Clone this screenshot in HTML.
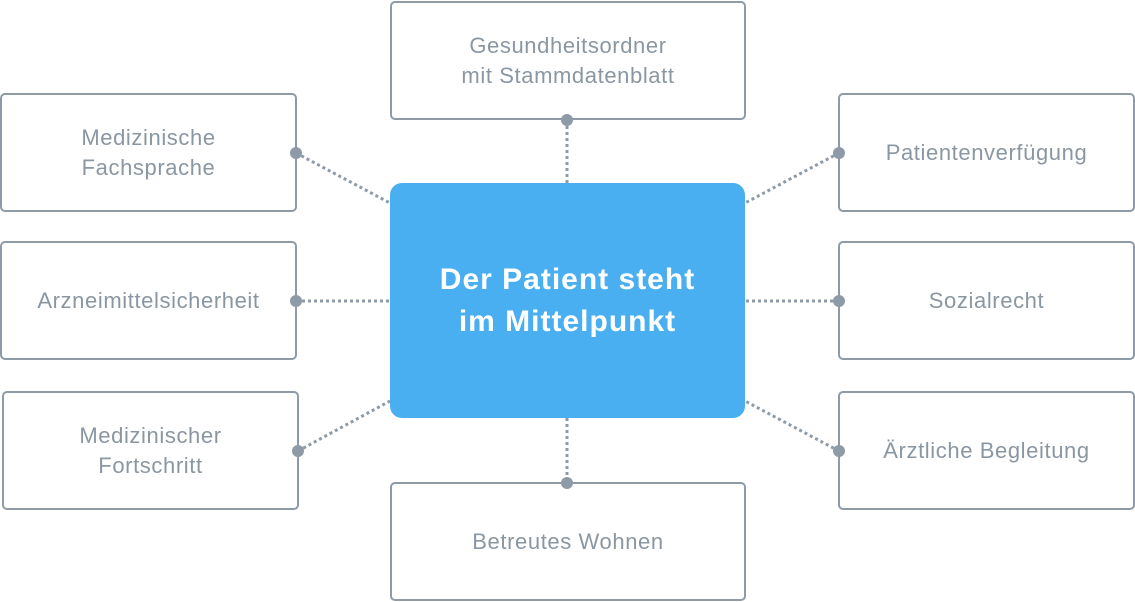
<!DOCTYPE html>
<html><head><meta charset="utf-8"><style>
body{margin:0;width:1135px;height:602px;background:#fff;position:relative;overflow:hidden;font-family:"Liberation Sans",sans-serif}
.b{position:absolute;box-sizing:border-box;border:2px solid #8e9ba7;border-radius:5px;display:flex;align-items:center;justify-content:center;text-align:center;color:#8a97a3;font-size:22px;letter-spacing:0.6px;line-height:30px;background:#fff}
.c{position:absolute;left:390px;top:183px;width:355px;height:235px;background:#4aaff0;border-radius:12px;display:flex;align-items:center;justify-content:center;text-align:center;color:#fff;font-weight:bold;font-size:30px;letter-spacing:1px;line-height:42px}
svg{position:absolute;left:0;top:0}
</style></head><body>
<div class="b" style="left:390px;top:1px;width:356px;height:119px">Gesundheitsordner<br>mit Stammdatenblatt</div>
<div class="b" style="left:0;top:93px;width:297px;height:119px">Medizinische<br>Fachsprache</div>
<div class="b" style="left:0;top:241px;width:297px;height:119px">Arzneimittelsicherheit</div>
<div class="b" style="left:2px;top:391px;width:297px;height:119px">Medizinischer<br>Fortschritt</div>
<div class="b" style="left:838px;top:93px;width:297px;height:119px">Patientenverfügung</div>
<div class="b" style="left:838px;top:241px;width:297px;height:119px">Sozialrecht</div>
<div class="b" style="left:838px;top:391px;width:297px;height:119px">Ärztliche Begleitung</div>
<div class="b" style="left:390px;top:482px;width:356px;height:119px">Betreutes Wohnen</div>
<div class="c">Der Patient steht<br>im Mittelpunkt</div>
<svg width="1135" height="602"><g stroke="#8e9ba7" stroke-width="3" stroke-dasharray="3,3" fill="none">
<line x1="567" y1="120" x2="567" y2="183"/><line x1="567" y1="418" x2="567" y2="483"/>
<line x1="296" y1="153" x2="390" y2="203"/><line x1="296" y1="301" x2="390" y2="301"/><line x1="298" y1="451" x2="390" y2="401"/>
<line x1="839" y1="153" x2="745" y2="203"/><line x1="839" y1="301" x2="745" y2="301"/><line x1="839" y1="451" x2="745" y2="401"/>
</g><g fill="#8e9ba7">
<circle cx="567" cy="120" r="6"/><circle cx="567" cy="483" r="6"/><circle cx="296" cy="153" r="6"/><circle cx="296" cy="301" r="6"/><circle cx="298" cy="451" r="6"/><circle cx="839" cy="153" r="6"/><circle cx="839" cy="301" r="6"/><circle cx="839" cy="451" r="6"/>
</g></svg>
</body></html>
